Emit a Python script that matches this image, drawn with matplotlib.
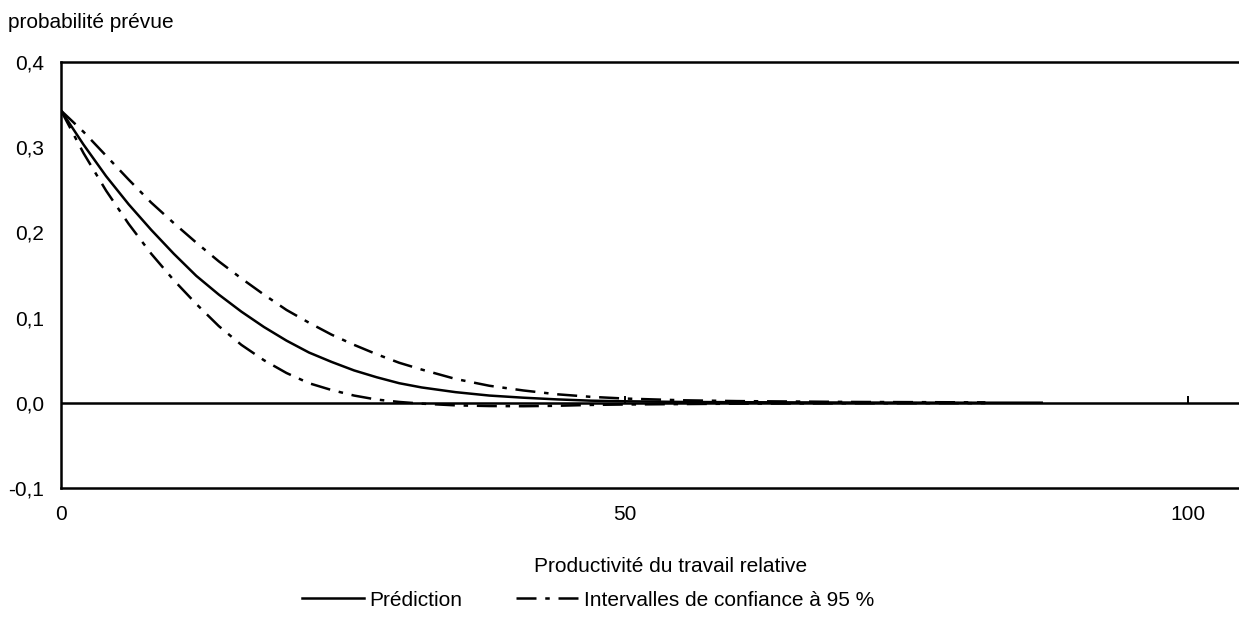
import matplotlib.pyplot as plt

plt.rcParams['font.family'] = ['Liberation Sans', 'DejaVu Sans']

# Values
x_pred = [0, 2, 4, 6, 8, 10, 12, 14, 16, 18, 20, 22, 24, 26, 28, 30, 32, 35, 38, 41,
          44, 47, 50, 55, 60, 65, 70, 75, 80, 87]
prediction = [0.343, 0.303, 0.266, 0.233, 0.203, 0.175, 0.149, 0.127, 0.107, 0.089,
              0.073, 0.059, 0.048, 0.038, 0.030, 0.023, 0.018, 0.0125, 0.0085, 0.006,
              0.004, 0.0025, 0.0018, 0.001, 0.0007, 0.0005, 0.0003, 0.0002, 0.0001, 0.0001]

x_ci = [0, 2, 4, 6, 8, 10, 12, 14, 16, 18, 20, 22, 24, 26, 28, 30, 32, 35, 38, 41,
        44, 47, 50, 55, 60, 65, 70, 75, 82]
ci_upper = [0.343, 0.318, 0.290, 0.262, 0.235, 0.211, 0.188, 0.166, 0.146, 0.127,
            0.109, 0.094, 0.080, 0.068, 0.057, 0.047, 0.039, 0.028, 0.020, 0.0145,
            0.010, 0.007, 0.005, 0.003, 0.002, 0.0015, 0.001, 0.0008, 0.0005]
ci_lower = [0.343, 0.293, 0.249, 0.210, 0.175, 0.144, 0.116, 0.090, 0.068, 0.050,
            0.035, 0.023, 0.015, 0.0085, 0.0038, 0.001, -0.001, -0.003, -0.0038, -0.004,
            -0.0035, -0.0025, -0.002, -0.0015, -0.001, -0.0008, -0.0006, -0.0005, -0.0004]

y_ticks = [-0.1, 0.0, 0.1, 0.2, 0.3, 0.4]
x_ticks = [0, 50, 100]

fig = plt.figure(figsize=(12.39, 6.25), dpi=100)
ax = fig.add_axes([61 / 1239, 1 - 488 / 625, 1 - 61 / 1239, (488 - 62) / 625])

dash = (0, (8, 3.5, 1.8, 3.5))
ax.plot(x_pred, prediction, color='black', lw=1.8, label='Prédiction')
ax.plot(x_ci, ci_upper, color='black', lw=1.8, linestyle=dash,
        label='Intervalles de confiance à 95 %')
ax.plot(x_ci, ci_lower, color='black', lw=1.8, linestyle=dash)

# zero line with its own small tick marks
ax.axhline(0, color='black', lw=1.8)
ax.vlines(x_ticks[1:], 0, 0.008, color='black', lw=1.4)

ax.set_xlim(0, 104.5)
ax.set_ylim(-0.1, 0.4)
ax.set_yticks(y_ticks)
ax.set_yticklabels([f'{v:.1f}'.replace('.', ',') for v in y_ticks])
ax.set_xticks(x_ticks)
ax.set_xticklabels([str(v) for v in x_ticks])
ax.tick_params(axis='both', length=0, labelsize=15)
ax.tick_params(axis='y', pad=12)
ax.tick_params(axis='x', pad=12)

for side in ['top', 'bottom', 'left']:
    ax.spines[side].set_linewidth(1.8)
ax.spines['right'].set_visible(False)

fig.text(8 / 1239, 1 - 22 / 625, 'probabilité prévue', fontsize=15, va='center', ha='left')
fig.text(671 / 1239, 1 - 567 / 625, 'Productivité du travail relative', fontsize=15,
         va='center', ha='center')

fig.legend(loc='center', bbox_to_anchor=(588 / 1239, 1 - 600 / 625), ncol=2,
           frameon=False, fontsize=15, handlelength=3.0, handletextpad=0.25,
           columnspacing=2.6)

fig.savefig('out.png', dpi=100)
